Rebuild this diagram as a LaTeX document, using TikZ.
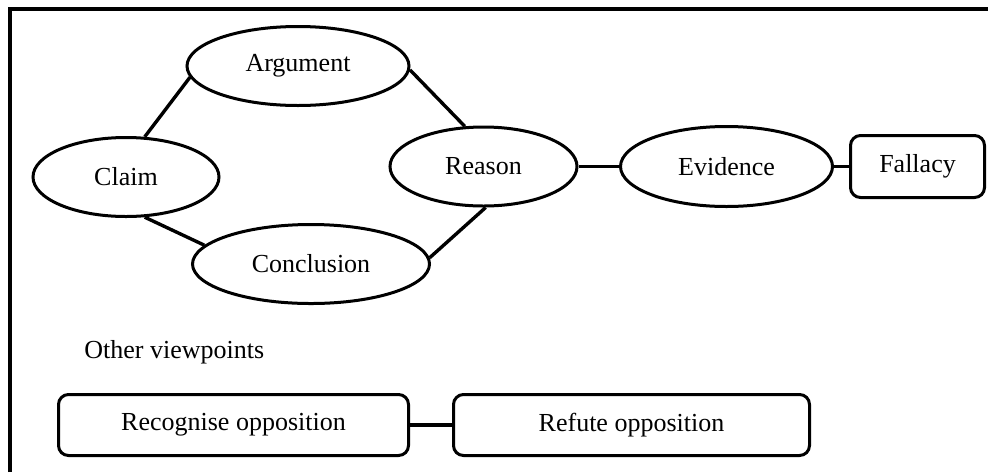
\documentclass[tikz,border=0pt]{standalone}
\usepackage{fontspec}
\setmainfont{Liberation Serif}
\usetikzlibrary{shapes.geometric}
\tikzset{
  ell/.style={ellipse, draw, line width=1.5pt, inner sep=0pt, font=\fontsize{13}{15}\selectfont},
  rbox/.style={rectangle, rounded corners=5pt, draw, line width=1.5pt, inner sep=0pt, font=\fontsize{13}{15}\selectfont},
  conn/.style={line width=1.7pt},
}
\begin{document}
\begin{tikzpicture}[x=0.5pt,y=-0.5pt]
\useasboundingbox (0,0) rectangle (988,472);
\draw[line width=2.3pt] (10,472) -- (10,9) -- (988,9);
\node[ell, minimum width=111pt, minimum height=39.5pt] (argument) at (298,66) {Argument};
\node[ell, minimum width=93pt, minimum height=39.5pt] (claim) at (126,177) {Claim};
\node[ell, minimum width=118.5pt, minimum height=39.5pt] (conclusion) at (311,264) {Conclusion};
\node[ell, minimum width=93.5pt, minimum height=39.5pt] (reason) at (483.5,166.5) {Reason};
\node[ell, minimum width=106pt, minimum height=40pt] (evidence) at (726.5,166.5) {Evidence};
\node[rbox, minimum width=67pt, minimum height=31pt] (fallacy) at (917.5,166.5) {Fallacy};
\node[anchor=west, inner sep=0pt, font=\fontsize{13}{15}\selectfont] (other) at (84,352) {Other viewpoints};
\node[rbox, minimum width=175pt, minimum height=30.5pt] (recog) at (233.5,425) {Recognise opposition};
\node[rbox, minimum width=178pt, minimum height=30.5pt] (refute) at (631.5,425) {Refute opposition};
\draw[conn] (claim.65) -- (argument.186);
\draw[conn] (argument.358) -- (reason.115);
\draw[conn] (claim.295) -- (conclusion.170);
\draw[conn] (conclusion.3) -- (reason.273);
\draw[conn] (reason.east) -- (evidence.west);
\draw[conn] (evidence.east) -- (fallacy.west);
\draw[conn] (recog.east) -- (refute.west);
\end{tikzpicture}
\end{document}
